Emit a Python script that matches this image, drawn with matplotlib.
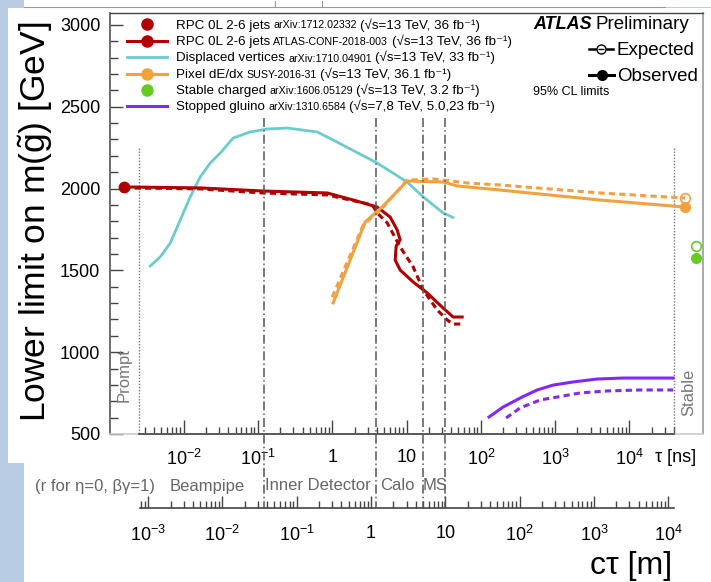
import matplotlib
matplotlib.use("Agg")
import matplotlib.pyplot as plt
from matplotlib.lines import Line2D
from matplotlib.patches import Rectangle
from matplotlib.ticker import MultipleLocator, NullFormatter, FixedLocator
from matplotlib.transforms import blended_transform_factory

plt.rcParams["font.family"] = ["Liberation Sans", "DejaVu Sans"]
plt.rcParams["mathtext.fontset"] = "custom"
plt.rcParams["mathtext.rm"] = "Liberation Sans"
plt.rcParams["mathtext.it"] = "Liberation Sans:italic"
plt.rcParams["mathtext.bf"] = "Liberation Sans:bold"
plt.rcParams["mathtext.sf"] = "Liberation Sans"
plt.rcParams["lines.scale_dashes"] = False

# ---------------- data (tau in ns, mass in GeV) ----------------
rpc_prompt_tau = [1.59e-3]
rpc_prompt_obs = [2010]

rpc_conf_tau_obs = [1.59e-3, 0.01675, 0.118, 0.857, 1.92, 4.03, 6.03, 7.49, 8.22, 7.26, 7.04,
                    8.22, 12.3, 19.0, 31.1, 42.4, 56.1]
rpc_conf_obs = [2010, 2004, 1985, 1973, 1930, 1887, 1826, 1747, 1686, 1649, 1563,
                1502, 1429, 1362, 1270, 1215, 1215]
rpc_conf_tau_exp = [1.59e-3, 0.01675, 0.118, 0.857, 3.48, 4.03, 5.50, 8.22, 12.3, 16.8,
                    25.9, 35.3, 42.4, 56.1]
rpc_conf_exp = [2004, 1998, 1973, 1961, 1900, 1851, 1790, 1643, 1521, 1380,
                1258, 1197, 1172, 1172]

dv_tau = [3.45e-3, 4.85e-3, 6.62e-3, 9.02e-3, 0.0123, 0.01675, 0.0229, 0.0311, 0.0466,
          0.0788, 0.1336, 0.248, 0.628, 1.03, 1.7, 4.03, 10.2, 16.8, 31.1, 43.8]
dv_obs = [1521, 1582, 1667, 1808, 1949, 2071, 2156, 2217, 2309,
          2346, 2364, 2370, 2346, 2297, 2245, 2156, 2040, 1949, 1851, 1820]

pix_tau_obs = [1.03, 2.78, 4.71, 10.2, 31.1, 48.1, 182, 4033, 56100]
pix_obs = [1301, 1796, 1888, 2046, 2040, 2016, 1991, 1930, 1887]
pix_tau_exp = [1.0, 2.61, 4.71, 10.2, 22.8, 31.1, 65.5, 182, 4033, 56100]
pix_exp = [1337, 1777, 1880, 2052, 2059, 2052, 2034, 2022, 1973, 1942]

stable_tau = [78900]
stable_obs = [1576]
stable_exp = [1649]

sg_tau_obs = [129, 200, 360, 573, 940, 1746, 3676, 8227, 38700]
sg_obs = [604, 665, 726, 769, 799, 818, 836, 842, 842]
sg_tau_exp = [219, 338, 629, 1065, 2173, 5012, 13930, 38700]
sg_exp = [598, 659, 708, 726, 751, 763, 769, 769]

tau_major = [1e-2, 1e-1, 1, 10, 1e2, 1e3, 1e4]
tau_labels = ["$10^{-2}$", "$10^{-1}$", "1", "10", "$10^{2}$", "$10^{3}$", "$10^{4}$"]
ct_major = [1e-3, 1e-2, 1e-1, 1, 10, 1e2, 1e3, 1e4]
ct_labels = ["$10^{-3}$", "$10^{-2}$", "$10^{-1}$", "1", "10", "$10^{2}$", "$10^{3}$", "$10^{4}$"]
detector_ct = [0.0365, 1.17, 5.0, 9.93]   # m
prompt_tau, stable_tau_line = 2.5e-3, 4.0e4
C = 0.299792458  # m/ns

legend_rows = [
    ("RPC 0L 2-6 jets", "arXiv:1712.02332", "(√s=13 TeV, 36 fb⁻¹)"),
    ("RPC 0L 2-6 jets", "ATLAS-CONF-2018-003", "(√s=13 TeV, 36 fb⁻¹)"),
    ("Displaced vertices", "arXiv:1710.04901", "(√s=13 TeV, 33 fb⁻¹)"),
    ("Pixel dE/dx", "SUSY-2016-31", "(√s=13 TeV, 36.1 fb⁻¹)"),
    ("Stable charged", "arXiv:1606.05129", "(√s=13 TeV, 3.2 fb⁻¹)"),
    ("Stopped gluino", "arXiv:1310.6584", "(√s=7,8 TeV, 5.0,23 fb⁻¹)"),
]

RED = "#b00000"
CYAN = "#6ccccc"
ORANGE = "#f2a140"
GREEN = "#66cc22"
PURPLE = "#8228f5"

# ---------------- figure ----------------
W, H = 711, 582
fig = plt.figure(figsize=(W / 100, H / 100), dpi=100, facecolor="#b8cce4")


def fx(p):
    return p / W


def fy(p):
    return 1 - p / H


for (x0, y0, x1, y1) in [(8, 8, 711, 463), (24, 463, 711, 582), (24, 0, 711, 6.5)]:
    fig.add_artist(Rectangle((fx(x0), fy(y1)), (x1 - x0) / W, (y1 - y0) / H,
                             transform=fig.transFigure, facecolor="white",
                             edgecolor="none", zorder=-5))
fig.add_artist(Line2D([fx(24), fx(665)], [fy(6.5), fy(6.5)], color="#999999", lw=0.8,
                      transform=fig.transFigure))
for xt in [275, 322]:
    fig.add_artist(Line2D([fx(xt), fx(xt)], [fy(6.5), fy(1)], color="#999999", lw=0.8,
                          transform=fig.transFigure))

ax = fig.add_axes([fx(110), fy(434), (703 - 110) / W, (434 - 13) / H])
ax.set_xscale("log")
ax.set_xlim(10 ** -2.99, 10 ** 4.99)
ax.set_ylim(500, 3073)
ax.patch.set_facecolor("white")

ax.spines["left"].set_color("#555555")
ax.spines["left"].set_linewidth(1.2)
ax.spines["top"].set_color("#444444")
ax.spines["top"].set_linewidth(1.0)
ax.spines["right"].set_color("#999999")
ax.spines["right"].set_linewidth(1.2)
ax.spines["bottom"].set_color("#cccccc")
ax.spines["bottom"].set_linewidth(1.2)
ax.plot([prompt_tau, stable_tau_line], [500, 500], color="#444444", lw=1.2,
        clip_on=False, zorder=6)

ax.yaxis.set_major_locator(MultipleLocator(500))
ax.yaxis.set_minor_locator(MultipleLocator(100))
ax.tick_params(axis="y", which="major", direction="in", length=9.5, width=1,
               color="#444444", labelsize=13, pad=7)
ax.tick_params(axis="y", which="minor", direction="in", length=5.5, width=1,
               color="#444444")

minor_tau = []
for e in range(-3, 5):
    for k in range(2, 10):
        v = k * 10.0 ** e
        if prompt_tau * 1.01 <= v <= stable_tau_line * 1.01:
            minor_tau.append(v)
ax.xaxis.set_major_locator(FixedLocator(tau_major))
ax.set_xticklabels(tau_labels)
ax.xaxis.set_minor_locator(FixedLocator(minor_tau))
ax.xaxis.set_minor_formatter(NullFormatter())
ax.tick_params(axis="x", which="major", direction="in", length=10, width=1,
               color="#444444", labelsize=13, pad=11)
ax.tick_params(axis="x", which="minor", direction="in", length=5, width=1,
               color="#444444")

# ct axis
ax2 = fig.add_axes([fx(110), fy(508), (703 - 110) / W, 0.0005])
ax2.set_xscale("log")
ax2.set_xlim(C * 10 ** -2.99, C * 10 ** 4.99)
ax2.patch.set_visible(False)
for s in ["left", "right", "top"]:
    ax2.spines[s].set_visible(False)
ct_lo, ct_hi = C * 10 ** ((140 - 332) / 74.33), C * stable_tau_line
ax2.spines["bottom"].set_bounds(ct_lo, ct_hi)
ax2.spines["bottom"].set_color("#444444")
ax2.spines["bottom"].set_linewidth(1.2)
ax2.set_yticks([])
minor_ct = []
for e in range(-4, 4):
    for k in range(2, 10):
        v = k * 10.0 ** e
        if ct_lo * 0.99 <= v <= 1e4:
            minor_ct.append(v)
ax2.xaxis.set_major_locator(FixedLocator(ct_major))
ax2.set_xticklabels(ct_labels)
ax2.xaxis.set_minor_locator(FixedLocator(minor_ct))
ax2.xaxis.set_minor_formatter(NullFormatter())
ax2.tick_params(axis="x", which="major", direction="in", length=9, width=1,
                color="#444444", labelsize=13, pad=12)
ax2.tick_params(axis="x", which="minor", direction="in", length=5, width=1,
                color="#444444")

# detector boundaries
trans = blended_transform_factory(ax.transData, fig.transFigure)
for ct in detector_ct:
    t = ct / C
    fig.add_artist(Line2D([t, t], [fy(118), fy(508)], transform=trans, color="#555555",
                          lw=1.1, dashes=(6.5, 2.2, 1.1, 2.2), zorder=3))
for t in [prompt_tau, stable_tau_line]:
    ax.plot([t, t], [2248, 500], color="#777777", lw=1.0, dashes=(1, 1.2), zorder=2)

# ---------------- series ----------------
DASH = (4.5, 3)
ax.plot(dv_tau, dv_obs, color=CYAN, lw=2.0, zorder=4, solid_capstyle="butt")
ax.plot(rpc_conf_tau_exp, rpc_conf_exp, color=RED, lw=2.2, dashes=DASH, zorder=4)
ax.plot(rpc_conf_tau_obs, rpc_conf_obs, color=RED, lw=2.2, zorder=5)
ax.plot(rpc_prompt_tau, rpc_prompt_obs, "o", color=RED, ms=7.5, zorder=6, clip_on=False)
ax.plot(pix_tau_exp, pix_exp, color=ORANGE, lw=2.2, dashes=DASH, zorder=4, clip_on=False)
ax.plot(pix_tau_obs, pix_obs, color=ORANGE, lw=2.2, zorder=5, clip_on=False)
ax.plot(pix_tau_obs[-1:], pix_obs[-1:], "o", color=ORANGE, ms=7, zorder=6, clip_on=False)
ax.plot(pix_tau_exp[-1:], pix_exp[-1:], "o", mfc="none", mec=ORANGE, mew=1.2, ms=7,
        zorder=6, clip_on=False)
ax.plot(stable_tau, stable_obs, "o", color=GREEN, ms=7, zorder=6, clip_on=False)
ax.plot(stable_tau, stable_exp, "o", mfc="none", mec=GREEN, mew=1.2, ms=7, zorder=6,
        clip_on=False)
ax.plot(sg_tau_exp, sg_exp, color=PURPLE, lw=2.2, dashes=DASH, zorder=4)
ax.plot(sg_tau_obs, sg_obs, color=PURPLE, lw=2.2, zorder=5)

# ---------------- texts ----------------
renderer = fig.canvas.get_renderer()


def chain(x, y, parts, gap=3.5):
    for s, size, kw in parts:
        t = fig.text(fx(x), fy(y), s, fontsize=size, ha="left", va="baseline", **kw)
        bb = t.get_window_extent(renderer=renderer)
        x = bb.x1 + gap
    return x


baselines = [28.5, 45, 61.5, 78, 94, 110]
for (main, ref, cond), yb in zip(legend_rows, baselines):
    chain(176, yb, [(main, 9.6, {}), (ref, 7.7, {}), (cond, 9.6, {})], gap=3.2)

hy = [b - 4.3 for b in baselines]
handles = [
    (RED, None, True),
    (RED, 2.2, True),
    (CYAN, 2.0, False),
    (ORANGE, 2.2, True),
    (GREEN, None, True),
    (PURPLE, 2.2, False),
]
for (col, lw, mk), y in zip(handles, hy):
    if lw:
        fig.add_artist(Line2D([fx(127), fx(167)], [fy(y), fy(y)], color=col, lw=lw,
                              transform=fig.transFigure))
    if mk:
        fig.add_artist(Line2D([fx(147)], [fy(y)], marker="o", ms=8, color=col, lw=0,
                              transform=fig.transFigure))

xa = chain(533, 29, [("ATLAS", 13, {"weight": "bold", "style": "italic"})], gap=4)
chain(xa, 29, [("Preliminary", 13.5, {})])
fig.text(fx(617), fy(55), "Expected", fontsize=13.5, ha="left", va="baseline")
fig.text(fx(617), fy(81.5), "Observed", fontsize=13.5, ha="left", va="baseline")
fig.text(fx(533), fy(95), "95% CL limits", fontsize=9, ha="left", va="baseline")
for (a, b) in [(589, 595), (607, 613)]:
    fig.add_artist(Line2D([fx(a), fx(b)], [fy(48.5), fy(48.5)], color="black", lw=1.8,
                          transform=fig.transFigure))
fig.add_artist(Line2D([fx(601)], [fy(48.5)], marker="o", ms=6.5, mfc="none", mec="black",
                      mew=1.0, lw=0, transform=fig.transFigure))
fig.add_artist(Line2D([fx(601)], [fy(48.5)], marker="_", ms=4, color="black", mew=1.0,
                      lw=0, transform=fig.transFigure))
fig.add_artist(Line2D([fx(589), fx(614)], [fy(75), fy(75)], color="black", lw=2.2,
                      transform=fig.transFigure))
fig.add_artist(Line2D([fx(601.5)], [fy(75)], marker="o", ms=7, color="black", lw=0,
                      transform=fig.transFigure))

fig.text(fx(36), fy(222), r"Lower limit on m($\tilde{\mathrm{g}}$) [GeV]", fontsize=25.5,
         rotation=90, ha="center", va="center")
fig.text(fx(124), fy(375), "Prompt", fontsize=12, color="#777777", rotation=90,
         ha="center", va="center")
fig.text(fx(689), fy(392), "Stable", fontsize=12, color="#777777", rotation=90,
         ha="center", va="center")
fig.text(fx(655), fy(458), "τ [ns]", fontsize=13, ha="left", va="center")
fig.text(fx(590), fy(566), "cτ [m]", fontsize=23, ha="left", va="center")
for s, x in [("(r for η=0, βγ=1)", 35), ("Beampipe", 170), ("Inner Detector", 265),
             ("Calo", 380), ("MS", 423)]:
    fig.text(fx(x), fy(486), s, fontsize=12, color="#666666", ha="left", va="center")

fig.savefig("out.png", dpi=100)
